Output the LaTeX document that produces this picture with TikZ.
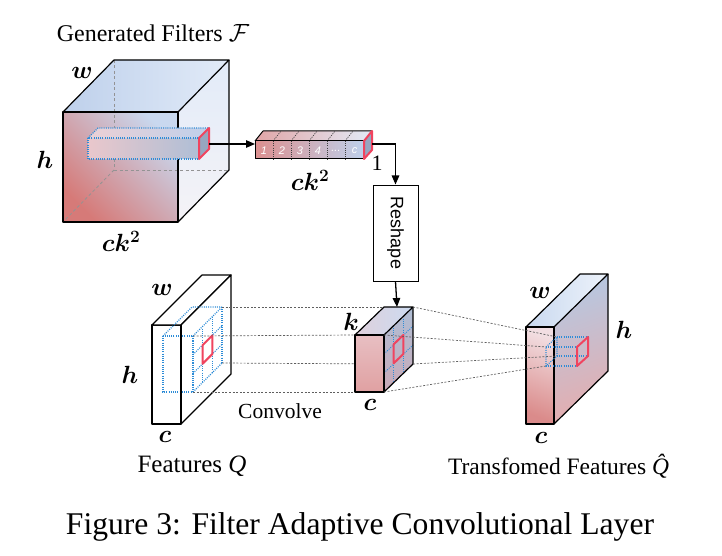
\documentclass[tikz,border=0pt]{standalone}
\usepackage{amsmath,amssymb}
\usepackage{fontspec}
\setmainfont{Liberation Serif}
\setsansfont{Liberation Sans}
\usetikzlibrary{arrows.meta}
\definecolor{cRed}{RGB}{214,122,120}
\definecolor{cPink}{RGB}{236,208,213}
\definecolor{cBlue}{RGB}{190,208,235}
\definecolor{cLight}{RGB}{226,235,248}
\definecolor{cWhite}{RGB}{246,249,253}
\definecolor{redline}{RGB}{240,68,95}
\definecolor{bluedot}{RGB}{45,140,215}
\definecolor{endgray}{RGB}{150,166,192}
\definecolor{gline}{RGB}{95,95,95}
\begin{document}
\begin{tikzpicture}[x=1pt,y=-1pt,
  edge/.style={draw=black,line width=1.2pt,line join=round},
  hid/.style={draw=gray!85,line width=0.8pt,dash pattern=on 3pt off 2.5pt},
  bdot/.style={draw=bluedot,line width=1.1pt,dash pattern=on 1pt off 1.2pt},
  kdot/.style={draw=black!75,line width=0.7pt,dash pattern=on 1pt off 1.2pt},
  gdash/.style={draw=gline,line width=0.7pt,dash pattern=on 2pt off 1.6pt},
  redf/.style={draw=redline,line width=2pt,line join=round},
  arr/.style={line width=1.3pt,-{Triangle[length=9pt,width=7.5pt]}},
  lab/.style={font=\fontsize{24}{28}\selectfont,inner sep=0pt},
  txt/.style={font=\fontsize{24}{28}\selectfont,inner sep=0pt},
  celltxt/.style={font=\sffamily\itshape\fontsize{11}{12}\selectfont,text=white,inner sep=0pt}]
\useasboundingbox (0,0) rectangle (722,556);

% ---------------- Big cube (generated filters) ----------------
\shade[bottom color=cRed,middle color=cPink!70!white,top color=cBlue!70!cLight,shading angle=-45] (63,112) rectangle (178,222);
\shade[left color=cBlue,right color=cLight] (63,112)--(114,60)--(229,60)--(178,112)--cycle;
\shade[top color=cLight,bottom color=cWhite!85!cPink] (178,112)--(229,60)--(229,170)--(178,222)--cycle;
\draw[hid] (114,60)--(114,170)--(229,170);
\draw[hid] (114,170)--(63,222);
\draw[edge] (63,112) rectangle (178,222);
\draw[edge] (63,112)--(114,60)--(229,60)--(178,112);
\draw[edge] (229,60)--(229,170)--(178,222);
% inner bar
\shade[left color=cPink!90!cRed,right color=cBlue!90!black!95] (88,138) rectangle (199,159);
\shade[left color=cPink,right color=cBlue] (88,138)--(98,128)--(209,128)--(199,138)--cycle;
\draw[bdot] (88,138) rectangle (199,159);
\draw[bdot] (88,138)--(98,128)--(209,128);
\draw[redf,fill=endgray] (199,138)--(209,128)--(209,149)--(199,159)--cycle;
\coordinate (bigend) at (209,144);

\node[txt] (gentitle) at (153,33) {Generated Filters $\mathcal{F}$};
\node[lab] (bw) at (82,73) {$\boldsymbol{w}$};
\node[lab] (bh) at (45,160) {$\boldsymbol{h}$};
\node[lab] (bck) at (121,241) {$\boldsymbol{ck^2}$};

% ---------------- Small bar (vector) ----------------
\shade[left color=cRed!75!cPink,middle color=cBlue!80!cPink,right color=cBlue] (255,141) rectangle (364,159);
\shade[left color=cRed!50!cPink,right color=cLight] (255,141)--(263,131)--(372,131)--(364,141)--cycle;
\foreach \xx in {273,291,309,327,345}{
  \draw[kdot] (\xx,141)--(\xx,159);
  \draw[kdot] (\xx,141)--(\xx+8,131);
}
\draw[line width=1pt,line join=round] (255,141) rectangle (364,159);
\draw[line width=1pt,line join=round] (255,141)--(263,131)--(372,131);
\draw[redf,fill=endgray] (364,141)--(372,131)--(372,150)--(364,159)--cycle;
\node[celltxt] (c1) at (264,150.5) {1};
\node[celltxt] (c2) at (282,150.5) {2};
\node[celltxt] (c3) at (300,150.5) {3};
\node[celltxt] (c4) at (318,150.5) {4};
\node[celltxt] (c5) at (336,150.5) {...};
\node[celltxt] (c6) at (354.5,150.5) {c};
\coordinate (barin) at (255,144);
\coordinate (barend) at (372,144);
\node[lab] (sck) at (310,180) {$\boldsymbol{ck^2}$};
\node[txt,font=\fontsize{22}{26}\selectfont] (one) at (377,163) {1};

\draw[arr] (bigend)--(barin);

% ---------------- Reshape box ----------------
\node[draw,line width=1pt,rotate=-90,minimum width=96pt,minimum height=45pt,inner sep=0pt,
      font=\sffamily\fontsize{18}{20}\selectfont] (reshape) at (395.5,233) {Reshape};
\draw[arr] (barend) -| (reshape.west);

% ---------------- Features Q slab ----------------
\filldraw[edge,fill=white] (152,325) rectangle (181,424);
\filldraw[edge,fill=white] (152,325)--(202,275)--(231,275)--(181,325)--cycle;
\filldraw[edge,fill=white] (181,325)--(231,275)--(231,374)--(181,424)--cycle;
% patch
\draw[bdot] (163,336) rectangle (193,392);
\draw[bdot] (163,336)--(192,307)--(222,307);
\foreach \i in {0,1,2,3}{
  \draw[bdot] (193+29*\i/3,336-29*\i/3)--(193+29*\i/3,392-29*\i/3);
  \draw[bdot] (193,336+56*\i/3)--(222,307+56*\i/3);
}
\draw[line width=1.5pt] (181,325)--(181,424);
\draw[redf] (202.67,345)--(212.33,335.33)--(212.33,354)--(202.67,363.67)--cycle;
\coordinate (qa) at (222,307);
\coordinate (qb) at (193,336);
\coordinate (qc) at (222,363);
\coordinate (qd) at (193,392);
\node[lab] (qw) at (162,290) {$\boldsymbol{w}$};
\node[lab] (qh) at (130,375) {$\boldsymbol{h}$};
\node[lab] (qc2) at (165,437) {$\boldsymbol{c}$};
\node[txt,font=\fontsize{25}{29}\selectfont] (qtitle) at (192,466) {Features \textit{Q}};
\node[txt,font=\fontsize{21.5}{25}\selectfont] (convolve) at (280,411) {Convolve};

% lines from patch to kernel cube
\coordinate (ka) at (384,307);
\coordinate (kb) at (355,335);
\coordinate (kc) at (384,364);
\coordinate (kd) at (355,392);
\draw[gdash] (qa)--(ka);
\draw[gdash] (qb)--(kb);
\draw[gdash] (qc)--(kc);
\draw[gdash] (qd)--(kd);

% ---------------- Kernel cube ----------------
\shade[top color=cPink!80!cRed,bottom color=cRed!55!cPink] (355,335) rectangle (384,392);
\shade[left color=cPink!70!cBlue,right color=cBlue!60!cLight] (355,335)--(384,307)--(413,307)--(384,335)--cycle;
\shade[top color=cBlue!90!black!95,bottom color=cRed!45!cBlue] (384,335)--(413,307)--(413,364)--(384,392)--cycle;
\foreach \i in {1,2}{
  \draw[bdot,line width=0.9pt] (384+29*\i/3,335-28*\i/3)--(384+29*\i/3,392-28*\i/3);
  \draw[bdot,line width=0.9pt] (384,335+57*\i/3)--(413,307+57*\i/3);
}
\draw[redf] (393.67,344.33)--(403.33,335)--(403.33,354)--(393.67,363.33)--cycle;
\draw[edge] (355,335) rectangle (384,392);
\draw[edge] (355,335)--(384,307)--(413,307)--(384,335);
\draw[edge] (413,307)--(413,364)--(384,392);
\coordinate (cubetop) at (397,307);
\node[lab] (kk) at (351,322) {$\boldsymbol{k}$};
\node[lab] (kcl) at (370,405) {$\boldsymbol{c}$};

\draw[arr] (reshape.east)--(cubetop);

% ---------------- Transformed features slab ----------------
\shade[top color=cPink!70!white,bottom color=cRed!80!cPink,shading angle=-20] (526,327) rectangle (554,424);
\shade[left color=cBlue!70!cLight,right color=cLight!60!white] (526,327)--(580,274)--(608,274)--(554,327)--cycle;
\shade[top color=cBlue!95!black!97,middle color=cBlue!70!cPink,bottom color=cPink!60!cRed,shading angle=20] (554,327)--(608,274)--(608,371)--(554,424)--cycle;
\draw[edge] (526,327) rectangle (554,424);
\draw[edge] (526,327)--(580,274)--(608,274)--(554,327);
\draw[edge] (608,274)--(608,371)--(554,424);
\draw[line width=1.6pt] (554,327)--(554,410);

% dotted column
\coordinate (ta) at (557,337);
\coordinate (tb) at (546,347);
\coordinate (tc) at (557,356);
\coordinate (td) at (546,366);
\coordinate (kbr) at (384,335);
\draw[gdash] (413,307)--(ta);
\draw[gdash] (kbr)--(tb);
\draw[gdash] (413,364)--(tc);
\draw[gdash] (384,392)--(td);
\draw[bdot] (tb)--(ta)--(tc)--(td)--cycle;
\draw[bdot] (ta)--(588,337);
\draw[bdot] (tb)--(577,347);
\draw[bdot] (tc)--(588,356);
\draw[bdot] (td)--(577,366);
\draw[redf] (577,347)--(588,337)--(588,356)--(577,366)--cycle;

\node[lab] (tw) at (540,293) {$\boldsymbol{w}$};
\node[lab] (th) at (624,330) {$\boldsymbol{h}$};
\node[lab] (tcl) at (541,438) {$\boldsymbol{c}$};
\node[txt,font=\fontsize{23.5}{28}\selectfont] (ttitle) at (563,466) {Transfomed Features \textit{\^{Q}}};

% ---------------- Caption ----------------
\node[font=\fontsize{31.6}{36}\selectfont,inner sep=0pt] (caption) at (360,527) {Figure 3: Filter Adaptive Convolutional Layer};
\end{tikzpicture}
\end{document}
